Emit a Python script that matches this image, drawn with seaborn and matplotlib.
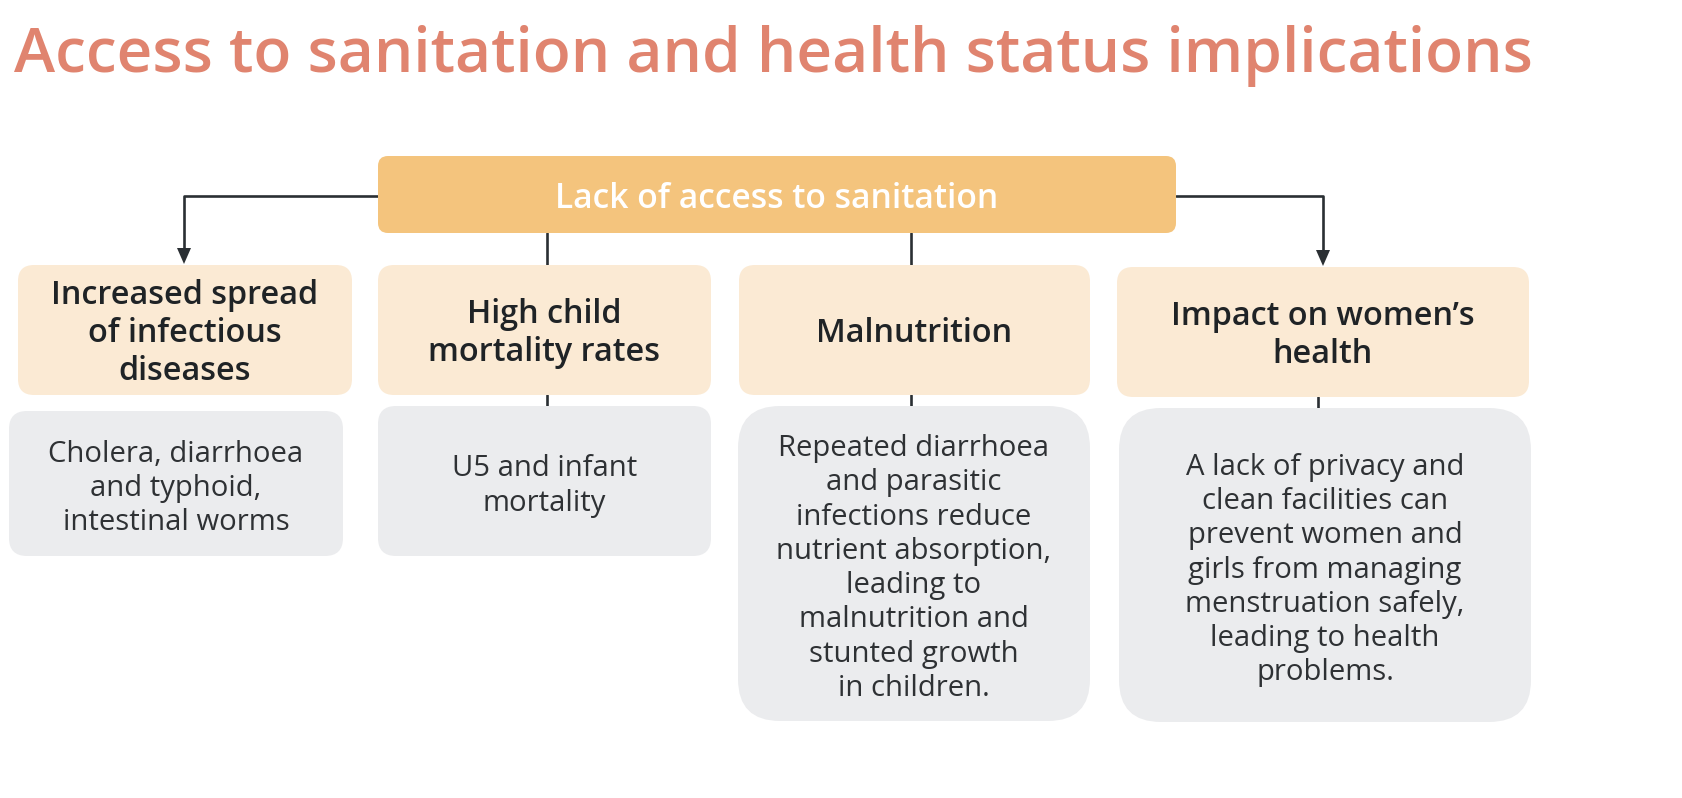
import numpy as np
import pandas as pd
import matplotlib.pyplot as plt
import seaborn as sns
from matplotlib.patches import FancyBboxPatch, Polygon

sns.set_theme(style="white")
plt.rcParams['font.family'] = ['Open Sans', 'DejaVu Sans']

# text content
title = "Access to sanitation and health status implications"
root_label = "Lack of access to sanitation"
headers = [
    ["Increased spread", "of infectious", "diseases"],
    ["High child", "mortality rates"],
    ["Malnutrition"],
    ["Impact on women\u2019s", "health"],
]
details = [
    ["Cholera, diarrhoea", "and typhoid,", "intestinal worms"],
    ["U5 and infant", "mortality"],
    ["Repeated diarrhoea", "and parasitic", "infections reduce", "nutrient absorption,",
     "leading to", "malnutrition and", "stunted growth", "in children."],
    ["A lack of privacy and", "clean facilities can", "prevent women and",
     "girls from managing", "menstruation safely,", "leading to health", "problems."],
]

# layout in pixels (x0, x1, y0, y1)
root_box = (378, 1176, 156, 233)
header_boxes = [(18, 352, 265, 395), (378, 711, 265, 395),
                (739, 1090, 265, 395), (1117, 1529, 267, 397)]
detail_boxes = [(9, 343, 411, 556), (378, 711, 406, 556),
                (738, 1090, 406, 721), (1119, 1531, 408, 722)]
detail_radius = [18, 18, 42, 42]

# colours
c_title = "#E0846F"
c_root = "#F4C47D"
c_head = "#FBEAD4"
c_gray = "#EBECEE"
c_line = "#2A2F33"
c_head_txt = "#1F2326"
c_body_txt = "#2E3134"

W, H = 1682, 798
fig = plt.figure(figsize=(W / 100, H / 100), dpi=100)
ax = fig.add_axes([0, 0, 1, 1])
ax.set_xlim(0, W)
ax.set_ylim(H, 0)
ax.axis("off")
renderer = fig.canvas.get_renderer()


def fit_size(s, target_px, **kw):
    t = fig.text(0, 0, s, fontsize=40, **kw)
    w = t.get_window_extent(renderer).width
    t.remove()
    return 40 * target_px / w


def box(b, color, r):
    x0, x1, y0, y1 = b
    ax.add_patch(FancyBboxPatch((x0, y0), x1 - x0, y1 - y0,
                                boxstyle=f"round,pad=0,rounding_size={r}",
                                fc=color, ec="none", zorder=1))


def lines_text(xc, yc, lines, size, spacing, **kw):
    n = len(lines)
    px = size * 100 / 72
    for i, ln in enumerate(lines):
        y = yc + (i - (n - 1) / 2) * spacing + 0.36 * px
        ax.text(xc, y, ln, fontsize=size, ha="center", va="baseline", zorder=3, **kw)


# title
ts = fit_size(title, 1515, fontweight="semibold")
ax.text(14, 72, title, fontsize=ts, fontweight="semibold", color=c_title,
        ha="left", va="baseline")

# root box
box(root_box, c_root, 10)
rs = fit_size(root_label, 443, fontweight="semibold")
lines_text((root_box[0] + root_box[1]) / 2, 196, [root_label], rs, 0,
           fontweight="semibold", color="white")

# connectors
lw = 1.9
ax.plot([root_box[0], 184, 184], [196, 196, 250], color=c_line, lw=lw, zorder=0)
ax.plot([root_box[1], 1323, 1323], [196, 196, 252], color=c_line, lw=lw, zorder=0)
for xt, yt in [(184, 264), (1323, 266)]:
    ax.add_patch(Polygon([(xt - 7, yt - 16), (xt + 7, yt - 16), (xt, yt)],
                         closed=True, fc=c_line, ec="none", zorder=2))
for xc in [547, 911]:
    ax.plot([xc, xc], [233, 265], color=c_line, lw=lw, zorder=0)
for xc, ya, yb in [(547, 395, 406), (911, 395, 406), (1318, 397, 408)]:
    ax.plot([xc, xc], [ya, yb], color=c_line, lw=lw, zorder=0)

# header boxes
hs = fit_size("Increased spread", 266, fontweight="semibold")
for b, lab in zip(header_boxes, headers):
    box(b, c_head, 16)
    lines_text((b[0] + b[1]) / 2, (b[2] + b[3]) / 2, lab, hs, 38,
               fontweight="semibold", color=c_head_txt)

# detail boxes
ds = fit_size("Cholera, diarrhoea", 254)
for b, lab, r in zip(detail_boxes, details, detail_radius):
    box(b, c_gray, r)
    lines_text((b[0] + b[1]) / 2, (b[2] + b[3]) / 2 + 2, lab, ds, 34.3,
               color=c_body_txt)

fig.savefig("out.png", dpi=100, facecolor="white")
